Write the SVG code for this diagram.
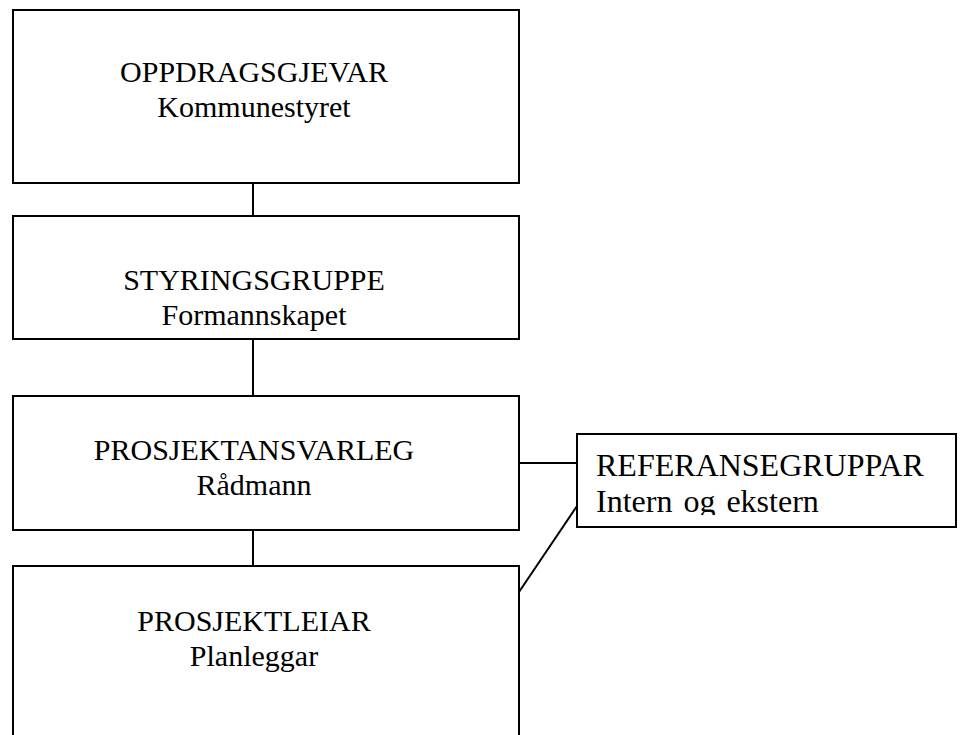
<svg xmlns="http://www.w3.org/2000/svg" width="961" height="735" viewBox="0 0 961 735">
<style>
.box{fill:#fff;stroke:#000;stroke-width:2}
.ln{stroke:#000;stroke-width:2;fill:none}
text{font-family:"Liberation Serif","Times New Roman",serif;font-size:30px;fill:#000}
.c{text-anchor:middle}
.r{font-size:32px;word-spacing:3px}
</style>
<defs>
<clipPath id="refclip"><rect x="577" y="434" width="379" height="81"/></clipPath>
</defs>
<rect width="961" height="735" fill="#fff"/>
<g id="connectors">
<line class="ln" x1="253" y1="183" x2="253" y2="216"/>
<line class="ln" x1="253" y1="339" x2="253" y2="396"/>
<line class="ln" x1="253" y1="530" x2="253" y2="566"/>
<line class="ln" x1="519" y1="463" x2="577" y2="463"/>
<line class="ln" x1="519" y1="592" x2="577" y2="506"/>
</g>
<g id="oppdragsgjevar">
<rect class="box" x="13" y="10" width="506" height="173"/>
<text class="c" x="254" y="82">OPPDRAGSGJEVAR</text>
<text class="c" x="254" y="117">Kommunestyret</text>
</g>
<g id="styringsgruppe">
<rect class="box" x="13" y="216" width="506" height="123"/>
<text class="c" x="254" y="290">STYRINGSGRUPPE</text>
<text class="c" x="254" y="325">Formannskapet</text>
</g>
<g id="prosjektansvarleg">
<rect class="box" x="13" y="396" width="506" height="134"/>
<text class="c" x="254" y="460">PROSJEKTANSVARLEG</text>
<text class="c" x="254" y="495">Rådmann</text>
</g>
<g id="prosjektleiar">
<rect class="box" x="13" y="566" width="506" height="185"/>
<text class="c" x="254" y="631">PROSJEKTLEIAR</text>
<text class="c" x="254" y="666">Planleggar</text>
</g>
<g id="referansegruppar">
<rect class="box" x="577" y="434" width="379" height="93"/>
<g clip-path="url(#refclip)">
<text class="r" x="596" y="476">REFERANSEGRUPPAR</text>
<text class="r" x="596" y="512">Intern og ekstern</text>
</g>
</g>
</svg>
